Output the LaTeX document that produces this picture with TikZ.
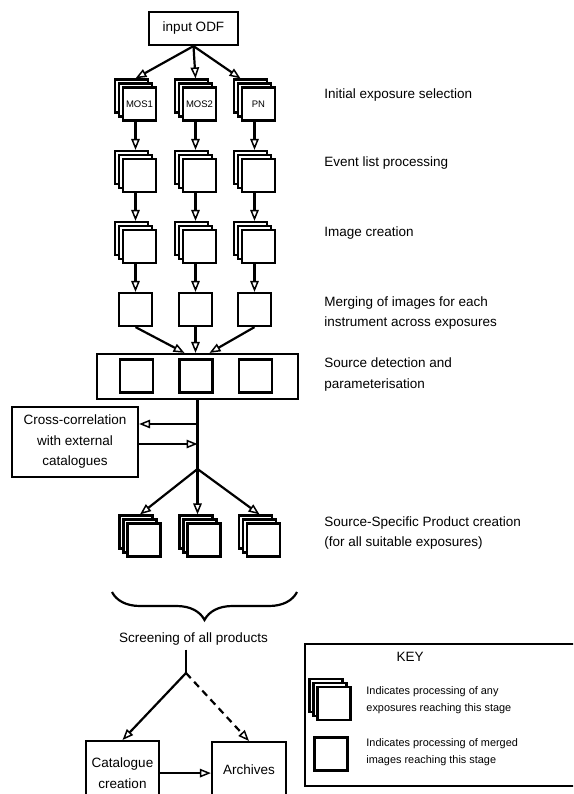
\documentclass[tikz,border=0pt]{standalone}
\usepackage{fontspec}
\setmainfont{Liberation Sans}
\usetikzlibrary{arrows.meta,decorations.pathreplacing}

\tikzset{
  box/.style = {draw, fill=white, line width=2.2pt, inner sep=0pt},
  sq/.style = {box, minimum size=33pt},
  stk/.style = {minimum width=41pt, minimum height=41pt, inner sep=0pt},
  lbl/.style = {anchor=west, align=left},
  keytxt/.style = {anchor=west, align=left, font=\fontsize{10.9}{17}\selectfont},
}

% stack of exposures: name, position, text
\newcommand{\expstack}[3]{%
  \node[stk] (#1) at (#2) {};
  \node[sq, anchor=north west] at (#1.north west) {};
  \node[sq, anchor=north west] at ([shift={(4pt,-4pt)}]#1.north west) {};
  \node[sq, anchor=north west, font=\fontsize{9.5}{9.5}\selectfont] at ([shift={(8pt,-8pt)}]#1.north west) {#3};
}

\begin{document}
\begin{tikzpicture}[x=1pt, y=-1pt, line width=2.2pt,
    >={Triangle[open, length=11pt, width=8.5pt, line width=1.5pt]},
    font=\fontsize{13.5}{20.5}\selectfont]
  \path[use as bounding box] (0,0) rectangle (573,794);
  \clip (0,0) rectangle (573,794);

  % Nodes
  \node[box, minimum width=89pt, minimum height=33pt] (odf) at (193.5,28.5) {input ODF};

  \expstack{mos1}{135.5,100}{MOS1}
  \expstack{mos2}{195.5,100}{MOS2}
  \expstack{mos3}{254.5,100}{PN}

  \expstack{ev1}{135.5,171.5}{}
  \expstack{ev2}{195.5,171.5}{}
  \expstack{ev3}{254.5,171.5}{}

  \expstack{im1}{135.5,242.5}{}
  \expstack{im2}{195.5,242.5}{}
  \expstack{im3}{254.5,242.5}{}

  \node[sq] (mg1) at (135.5,309.5) {};
  \node[sq] (mg2) at (195.5,309.5) {};
  \node[sq] (mg3) at (254.5,309.5) {};

  \node[box, minimum width=201pt, minimum height=45pt] (sd) at (197.5,376.5) {};
  \node[sq] (sd1) at (136.5,376) {};
  \node[sq] (sd2) at (196,376) {};
  \node[sq] (sd3) at (255.5,376) {};

  \node[box, minimum width=126pt, minimum height=70pt, align=center] (xc) at (75,442)
    {Cross-correlation\\with external\\catalogues};

  \expstack{ssp1}{140,536}{}
  \expstack{ssp2}{200,536}{}
  \expstack{ssp3}{259.5,536}{}

  \node (scr) at (193.5,639) {Screening of all products};
  \node[box, minimum width=73pt, minimum height=64pt, anchor=north, align=center] (cat) at (122.5,740)
    {Catalogue\\creation};
  \node[box, minimum width=74pt, minimum height=56pt, anchor=north] (arch) at (249,741) {Archives};

  % Key
  \node[box, minimum width=290pt, minimum height=142pt, anchor=north west] (key) at (304,643) {};
  \node (keyt) at (410,657) {KEY};
  \expstack{kexp}{330,699.5}{}
  \node[sq] (kmrg) at (331,754) {};
  \node[keytxt] (k1) at (362,700) {Indicates processing of any\\exposures reaching this stage};
  \node[keytxt] (k2) at (362,752) {Indicates processing of merged\\images reaching this stage};

  % Stage labels
  \node[lbl] (l1) at (320,95) {Initial exposure selection};
  \node[lbl] (l2) at (320,163) {Event list processing};
  \node[lbl] (l3) at (320,233) {Image creation};
  \node[lbl] (l4) at (320,313) {Merging of images for each\\instrument across exposures};
  \node[lbl] (l5) at (320,374.5) {Source detection and\\parameterisation};
  \node[lbl] (l6) at (320,533) {Source-Specific Product creation\\(for all suitable exposures)};

  % Lines
  \draw[->] (odf.south) -- (mos1.north);
  \draw[->] (odf.south) -- (mos2.north);
  \draw[->] (odf.south) -- ([xshift=-14pt]mos3.north);

  \draw[->] (mos1) -- (ev1);
  \draw[->] (mos2) -- (ev2);
  \draw[->] (mos3) -- (ev3);
  \draw[->] (ev1) -- (im1);
  \draw[->] (ev2) -- (im2);
  \draw[->] (ev3) -- (im3);
  \draw[->] (im1) -- (mg1);
  \draw[->] (im2) -- (mg2);
  \draw[->] (im3) -- (mg3);

  \draw[->] (mg1.south) -- ([xshift=-13pt]sd.north);
  \draw[->] (mg2.south) -- (mg2.south |- sd.north);
  \draw[->] (mg3.south) -- ([xshift=12pt]sd.north);

  \coordinate (br) at (197.5,469);
  \coordinate (j1) at (197.5,424);
  \coordinate (j2) at (197.5,444);
  \draw (sd.south) -- (br);
  \draw[->] (j1) -- (j1 -| xc.east);
  \draw[->] (j2 -| xc.east) -- (j2);

  \draw[->] (br) -- (ssp1.north);
  \draw[->] (br) -- (br |- ssp2.north);
  \draw[->] (br) -- (ssp3.north);

  \draw[decorate, decoration={brace, amplitude=28pt, mirror}] (112,592) -- (297,592);

  \coordinate (sp) at (186,673);
  \draw (scr.south -| sp) -- (sp);
  \draw[->] (sp) -- (cat.north);
  \draw[->, dash pattern=on 7pt off 5pt] (sp) -- (arch.north);
  \draw[->] (cat.east) -- (cat.east -| arch.west);
\end{tikzpicture}
\end{document}
